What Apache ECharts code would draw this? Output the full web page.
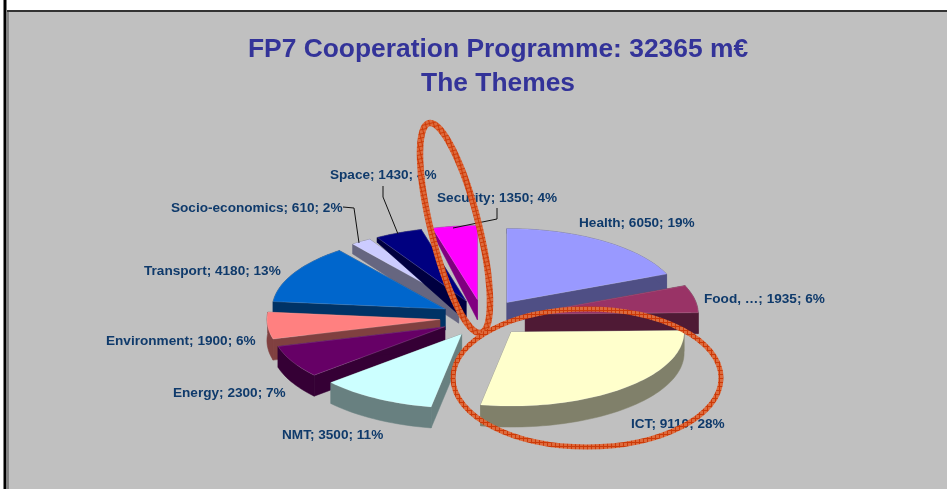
<!DOCTYPE html>
<html>
<head>
<meta charset="utf-8">
<title>FP7 Cooperation Programme</title>
<style>
  html, body { margin: 0; padding: 0; background: #fff; }
  #chart { width: 947px; height: 489px; }
</style>
<script src="https://cdn.jsdelivr.net/npm/echarts@6/dist/echarts.min.js"></script>
</head>
<body>
<div id="chart"></div>
<script>
// data, clockwise from 12 o'clock
const themes = ["Health", "Food, …", "ICT", "NMT", "Energy", "Environment", "Transport", "Socio-economics", "Space", "Security"];
const budgets = [6050, 1935, 9110, 3500, 2300, 1900, 4180, 610, 1430, 1350];
const topColors = ["#9999ff", "#993366", "#ffffcc", "#ccffff", "#660066", "#ff8080", "#0066cc", "#ccccff", "#000080", "#ff00ff"];
const wallColors = ["#4f4f85", "#4f1a35", "#80806a", "#688080", "#350035", "#804040", "#003366", "#666680", "#000040", "#800080"];
// back to front, slices overlap each other
const paintOrder = ["Socio-economics", "Space", "Security", "Health", "Transport", "Environment", "Energy", "Food, …", "ICT", "NMT"];

const total = budgets.reduce((a, b) => a + b, 0);

// tilted pie
const pie = { cx: 483, cy: 318, rx: 173, ry: 74, explode: 0.25 };

// label left edge / middle, placed by hand like in the original slide
const labelSpots = {
  "Health": [579, 223],
  "Food, …": [704, 299],
  "ICT": [631, 424],
  "NMT": [282, 435],
  "Energy": [173, 393],
  "Environment": [106, 341],
  "Transport": [144, 271],
  "Socio-economics": [171, 208],
  "Space": [330, 175],
  "Security": [437, 198],
};

const leaderLines = [
  [[343, 207], [354, 208], [359, 243]],
  [[383, 186], [383, 197], [398, 234]],
  [[497, 208], [497, 219], [453, 228]],
];

const project = (theta, r, ox, oy) => [
  ox + r * pie.rx * Math.sin(theta),
  oy - r * pie.ry * Math.cos(theta),
];

// perspective: walls at the back of the pie look thinner than at the front
const wallDepth = (y) => {
  const t = Math.max(0, (y - 238) / 70);
  return Math.min(21, 5 + 16 * Math.sqrt(t));
};

const renderSlice = (params, api) => {
  const i = api.value(0);
  const before = budgets.slice(0, i).reduce((a, b) => a + b, 0);
  const start = (before / total) * Math.PI * 2;
  const end = ((before + api.value(1)) / total) * Math.PI * 2;
  const mid = (start + end) / 2;
  const [ox, oy] = project(mid, pie.explode, pie.cx, pie.cy);

  const arc = [];
  const steps = Math.ceil((end - start) / 0.03);
  for (let s = 0; s <= steps; s++) {
    arc.push(project(start + ((end - start) * s) / steps, 1, ox, oy));
  }
  const drop = (p) => [p[0], p[1] + wallDepth(p[1])];
  const apex = [ox, oy];
  const z2 = paintOrder.indexOf(themes[i]) * 5;

  const wall = (points) => ({
    type: "polygon",
    z2,
    shape: { points },
    style: { fill: wallColors[i], stroke: wallColors[i], lineWidth: 0.5 },
  });

  return {
    type: "group",
    silent: true,
    children: [
      wall([apex, arc[0], drop(arc[0]), drop(apex)]),
      wall([apex, arc[arc.length - 1], drop(arc[arc.length - 1]), drop(apex)]),
      wall(arc.concat(arc.map(drop).reverse())),
      {
        type: "polygon",
        z2: z2 + 1,
        shape: { points: [apex].concat(arc) },
        style: { fill: topColors[i], stroke: "rgba(255,255,255,0.25)", lineWidth: 0.6 },
      },
    ],
  };
};

// the hand drawn red rings have a hatched look
const hatch = document.createElement("canvas");
hatch.width = 4;
hatch.height = 4;
const hc = hatch.getContext("2d");
hc.fillStyle = "#dd6a3c";
hc.fillRect(0, 0, 4, 4);
hc.fillStyle = "#cc3a08";
hc.fillRect(0, 0, 4, 1);
hc.fillRect(0, 0, 1, 4);
const ringStroke = { image: hatch, repeat: "repeat" };

const textLabels = themes.map((name, i) => ({
  type: "text",
  z: 5,
  silent: true,
  x: labelSpots[name][0],
  y: labelSpots[name][1],
  style: {
    text: `${name}; ${budgets[i]}; ${Math.round((budgets[i] / total) * 100)}%`,
    fill: "#0f3a6b",
    font: "bold 13.6px 'Liberation Sans', Arial, sans-serif",
    verticalAlign: "middle",
  },
}));

const leaders = leaderLines.map((points) => ({
  type: "polyline",
  z: 4,
  silent: true,
  shape: { points },
  style: { stroke: "#111", lineWidth: 1, fill: null },
}));

const chart = echarts.init(document.getElementById("chart"), null, { renderer: "canvas" });

chart.setOption({
  animation: false,
  backgroundColor: "#ffffff",
  title: {
    text: "FP7 Cooperation Programme: 32365 m€\nThe Themes",
    left: 493,
    top: 28,
    textAlign: "center",
    textStyle: {
      color: "#333399",
      fontFamily: "'Liberation Sans', Arial, sans-serif",
      fontWeight: "bold",
      fontSize: 26.4,
      lineHeight: 34,
    },
  },
  series: [
    {
      type: "custom",
      coordinateSystem: "none",
      z: 2,
      renderItem: renderSlice,
      data: budgets.map((v, i) => [i, v]),
    },
  ],
  graphic: {
    elements: [
      // slide frame
      { type: "rect", z: -10, silent: true, shape: { x: 8, y: 12, width: 939, height: 477 }, style: { fill: "#c0c0c0" } },
      { type: "rect", z: -9, silent: true, shape: { x: 3.5, y: 0, width: 3, height: 489 }, style: { fill: "#000" } },
      { type: "rect", z: -9, silent: true, shape: { x: 7.4, y: 10, width: 1, height: 479 }, style: { fill: "#333" } },
      { type: "rect", z: -9, silent: true, shape: { x: 7, y: 10, width: 940, height: 2 }, style: { fill: "#333" } },
    ]
      .concat(leaders)
      .concat(textLabels)
      .concat([
        {
          type: "ellipse",
          z: 6,
          silent: true,
          x: 455,
          y: 228,
          rotation: (14 * Math.PI) / 180,
          shape: { cx: 0, cy: 0, rx: 24, ry: 108 },
          style: { fill: null, stroke: ringStroke, lineWidth: 6.5 },
        },
        {
          type: "ellipse",
          z: 6,
          silent: true,
          x: 587,
          y: 378,
          shape: { cx: 0, cy: 0, rx: 134, ry: 69 },
          style: { fill: null, stroke: ringStroke, lineWidth: 5 },
        },
      ]),
  },
});
</script>
</body>
</html>
